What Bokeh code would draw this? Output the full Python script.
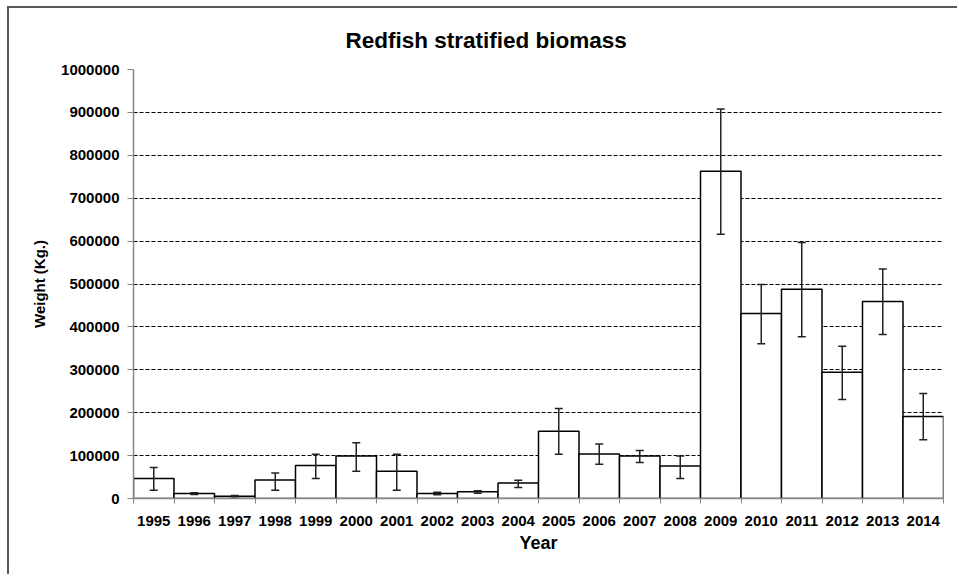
import numpy as np
from bokeh.plotting import figure
from bokeh.models import ColumnDataSource, Whisker, TeeHead, FixedTicker, Range1d, BasicTickFormatter
from bokeh.embed import file_html
from bokeh.resources import INLINE

years = ["1995", "1996", "1997", "1998", "1999", "2000", "2001", "2002", "2003", "2004",
         "2005", "2006", "2007", "2008", "2009", "2010", "2011", "2012", "2013", "2014"]
biomass = [46500, 11500, 5500, 43000, 77000, 99000, 63500, 11500, 15500, 36000,
           156500, 103500, 99000, 76000, 763000, 431000, 488000, 294000, 459000, 191000]
lower = [19500, 9500, 4000, 19500, 46500, 63500, 19500, 8500, 12500, 25500,
         103000, 80000, 84000, 46500, 616000, 361000, 377000, 231000, 382000, 137000]
upper = [72000, 13500, 7000, 59500, 103000, 130000, 103000, 14500, 18000, 42500,
         210000, 127000, 112000, 99000, 908000, 499000, 597000, 355000, 535000, 245000]
y_ticks = [0, 100000, 200000, 300000, 400000, 500000, 600000, 700000, 800000, 900000, 1000000]

pos = list(np.arange(len(years)) + 0.5)
src = ColumnDataSource(dict(x=pos, year=years, value=biomass, lower=lower, upper=upper))

FONT = "Liberation Sans"

p = figure(width=950, height=568, output_backend="svg", toolbar_location=None,
           x_range=Range1d(0, len(years)), y_range=Range1d(0, 1000000),
           min_border_left=124, min_border_right=16, min_border_top=60, min_border_bottom=78,
           title="Redfish stratified  biomass")
p.styles = {"box-shadow": "-2px -2px 0 0 #5a5a5a", "margin-left": "9px", "margin-top": "8px"}

p.title.text_font = FONT
p.title.text_font_size = "22.5px"
p.title.text_font_style = "bold"
p.title.text_color = "black"
p.title.align = "left"
p.title.offset = 212
p.title.standoff = 34

p.outline_line_color = None
p.background_fill_color = "white"
p.border_fill_color = "white"

p.vbar(x="x", top="value", width=1, source=src, fill_color="white",
       line_color="black", line_width=1.5)

w = Whisker(base="x", lower="lower", upper="upper", source=src, level="overlay",
            line_color="#222222", line_width=1.5,
            upper_head=TeeHead(size=8, line_color="#222222", line_width=1.5),
            lower_head=TeeHead(size=8, line_color="#222222", line_width=1.5))
p.add_layout(w)

# x axis
xt = FixedTicker(ticks=pos, minor_ticks=list(range(len(years) + 1)))
p.xaxis.ticker = xt
p.xaxis.major_label_overrides = {float(x): y for x, y in zip(pos, years)}
p.xaxis.major_tick_line_color = None
p.xaxis.minor_tick_line_color = "#868686"
p.xaxis.minor_tick_out = 5
p.xaxis.minor_tick_in = 0
p.xaxis.axis_line_color = "#868686"
p.xaxis.axis_line_width = 1.5
p.xaxis.major_label_text_font = FONT
p.xaxis.major_label_text_font_size = "15px"
p.xaxis.major_label_text_font_style = "bold"
p.xaxis.major_label_text_color = "black"
p.xaxis.major_label_standoff = 11
p.xaxis.axis_label = "Year"
p.xaxis.axis_label_text_font = FONT
p.xaxis.axis_label_text_font_size = "18px"
p.xaxis.axis_label_text_font_style = "bold"
p.xaxis.axis_label_text_color = "black"
p.xaxis.axis_label_standoff = 4

# y axis
p.yaxis.ticker = FixedTicker(ticks=y_ticks, minor_ticks=[])
p.yaxis.formatter = BasicTickFormatter(use_scientific=False)
p.yaxis.major_tick_line_color = "#868686"
p.yaxis.major_tick_out = 6
p.yaxis.major_tick_in = 0
p.yaxis.minor_tick_line_color = None
p.yaxis.axis_line_color = "#868686"
p.yaxis.axis_line_width = 1.5
p.yaxis.major_label_text_font = FONT
p.yaxis.major_label_text_font_size = "15px"
p.yaxis.major_label_text_font_style = "bold"
p.yaxis.major_label_text_color = "black"
p.yaxis.major_label_standoff = 8
p.yaxis.axis_label = "Weight (Kg.)"
p.yaxis.axis_label_text_font = FONT
p.yaxis.axis_label_text_font_size = "15px"
p.yaxis.axis_label_text_font_style = "bold"
p.yaxis.axis_label_text_color = "black"
p.yaxis.axis_label_standoff = 10

p.xgrid.grid_line_color = None
p.ygrid.grid_line_color = "black"
p.ygrid.grid_line_dash = "4 2"
p.ygrid.grid_line_width = 1

open("out.html", "w").write(file_html(p, INLINE))
